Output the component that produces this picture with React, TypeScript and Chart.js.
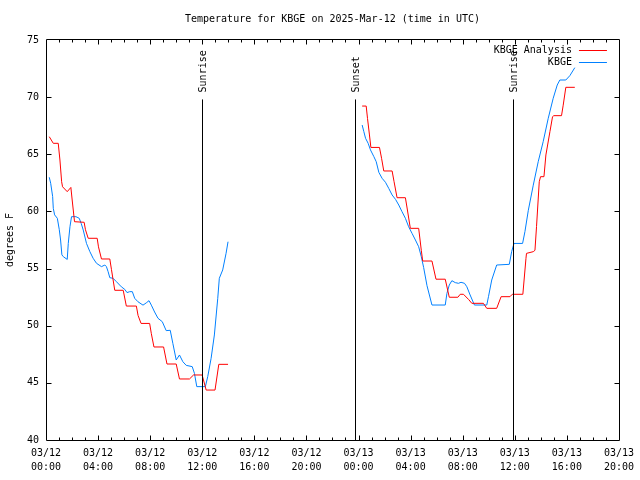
import React, { useEffect, useRef } from 'react';
import { Chart, registerables } from 'chart.js';

Chart.register(...registerables);

const FONT = "'DejaVu Sans Mono', 'Liberation Mono', monospace";
const TITLE = 'Temperature for KBGE on 2025-Mar-12 (time in UTC)';
const Y_TITLE = 'degrees F';
const X_MIN = 0;
const X_MAX = 44;
const Y_MIN = 40;
const Y_MAX = 75;
const SERIES_LABELS = ['KBGE Analysis', 'KBGE'];
const SERIES_COLORS = ['#ff0000', '#0080ff'];

// hours since 03/12 00:00 UTC
const analysisDay1Hours = [0.25, 0.56, 0.94, 1.07, 1.2, 1.27, 1.63, 1.91, 2.01, 2.19, 2.93, 3.03, 3.24, 3.93, 4.03, 4.26, 4.9, 5.03, 5.28, 5.93, 6.17, 6.94, 7.07, 7.3, 7.96, 8.09, 8.29, 9.03, 9.29, 10.0, 10.25, 11.02, 11.33, 11.99, 12.3, 12.98, 13.27, 13.98];
const analysisDay1Temps = [66.54, 65.96, 65.96, 64.5, 62.6, 62.16, 61.73, 62.1, 61.0, 59.1, 59.05, 58.4, 57.65, 57.65, 56.9, 55.84, 55.84, 54.9, 53.1, 53.1, 51.72, 51.72, 50.9, 50.2, 50.2, 49.3, 48.14, 48.14, 46.65, 46.65, 45.34, 45.34, 45.69, 45.69, 44.37, 44.37, 46.62, 46.62];
const analysisDay2Hours = [24.28, 24.59, 24.69, 24.84, 24.95, 25.61, 25.77, 25.94, 26.58, 26.73, 26.96, 27.6, 27.73, 27.98, 28.62, 28.82, 28.93, 29.64, 29.95, 30.66, 30.97, 31.63, 31.81, 32.06, 32.45, 32.7, 33.59, 33.85, 34.61, 34.95, 35.63, 35.81, 36.62, 36.86, 36.9, 37.42, 37.55, 37.67, 37.88, 37.98, 38.24, 38.39, 38.7, 38.9, 39.0, 39.59, 39.72, 39.92, 40.61];
const analysisDay2Temps = [69.22, 69.22, 68.14, 66.69, 65.6, 65.6, 64.65, 63.54, 63.54, 62.6, 61.2, 61.2, 60.3, 58.52, 58.52, 56.6, 55.66, 55.66, 54.07, 54.07, 52.49, 52.49, 52.75, 52.75, 52.3, 51.96, 51.96, 51.52, 51.52, 52.54, 52.54, 52.75, 52.75, 55.9, 56.33, 56.48, 56.6, 58.67, 62.6, 63.04, 63.04, 64.94, 66.98, 68.29, 68.38, 68.38, 69.3, 70.86, 70.86];

const obsDay1Hours = [0.25, 0.36, 0.51, 0.56, 0.66, 0.87, 1.02, 1.12, 1.22, 1.33, 1.63, 1.71, 1.84, 1.96, 2.3, 2.55, 2.7, 2.86, 3.11, 3.37, 3.62, 3.88, 4.26, 4.52, 4.64, 4.77, 4.9, 5.15, 5.41, 5.79, 6.05, 6.22, 6.43, 6.63, 6.81, 7.06, 7.45, 7.7, 7.91, 8.09, 8.34, 8.6, 8.93, 9.23, 9.54, 9.74, 10.0, 10.25, 10.51, 10.77, 11.23, 11.4, 11.58, 12.24, 12.42, 12.68, 12.93, 13.19, 13.31, 13.57, 13.83, 13.98];
const obsDay1Temps = [62.99, 62.46, 61.3, 60.27, 59.7, 59.4, 58.4, 57.5, 56.2, 56.04, 55.8, 57.2, 58.66, 59.54, 59.54, 59.4, 58.96, 58.37, 57.2, 56.48, 55.9, 55.46, 55.17, 55.31, 55.17, 54.73, 54.2, 54.15, 53.85, 53.4, 53.18, 52.9, 52.98, 52.98, 52.4, 52.1, 51.8, 52.0, 52.19, 51.8, 51.2, 50.65, 50.35, 49.57, 49.6, 48.46, 47.0, 47.44, 46.85, 46.53, 46.42, 45.83, 44.67, 44.67, 45.54, 47.15, 49.19, 52.4, 54.15, 54.88, 56.34, 57.35];
const obsDay2Hours = [24.28, 24.41, 24.54, 24.74, 24.92, 25.18, 25.36, 25.56, 25.81, 26.07, 26.32, 26.58, 26.84, 27.09, 27.34, 27.6, 27.85, 28.11, 28.37, 28.62, 28.82, 29.0, 29.26, 29.64, 30.66, 30.79, 30.97, 31.17, 31.43, 31.68, 31.87, 32.14, 32.32, 32.57, 32.9, 33.85, 33.98, 34.23, 34.61, 35.58, 35.76, 35.94, 36.6, 36.78, 37.04, 37.42, 37.8, 38.18, 38.57, 38.95, 39.26, 39.46, 39.92, 40.23, 40.61];
const obsDay2Temps = [67.56, 66.98, 66.4, 65.96, 65.38, 64.79, 64.35, 63.42, 62.9, 62.55, 62.02, 61.44, 61.06, 60.56, 59.98, 59.4, 58.66, 58.08, 57.5, 56.91, 56.04, 55.1, 53.5, 51.81, 51.81, 52.83, 53.56, 53.94, 53.77, 53.71, 53.8, 53.71, 53.41, 52.69, 51.81, 51.81, 52.54, 54.0, 55.31, 55.37, 56.48, 57.2, 57.2, 58.23, 60.1, 62.3, 64.35, 66.1, 68.15, 69.9, 71.06, 71.5, 71.5, 71.88, 72.58];

const eventHours = [11.96, 23.7, 35.89];
const eventLabels = ['Sunrise', 'Sunset', 'Sunrise'];
const eventTopTemp = 69.8;

function toPoints(parts: [number[], number[]][]) {
  const pts: { x: number; y: number | null }[] = [];
  parts.forEach(([hs, ts], i) => {
    if (i > 0) {
      const prev = parts[i - 1][0];
      pts.push({ x: (prev[prev.length - 1] + hs[0]) / 2, y: null });
    }
    hs.forEach((h, j) => pts.push({ x: h, y: ts[j] }));
  });
  return pts;
}

const framePlugin = {
  id: 'gnuplotFrame',
  afterDraw(chart: any) {
    const { ctx, chartArea, scales } = chart;
    const xs = scales.x;
    const ys = scales.y;
    const L = chartArea.left + 0.5;
    const R = Math.round(chartArea.right) + 0.5;
    const T = chartArea.top - 0.5;
    const B = chartArea.bottom + 0.5;
    ctx.save();
    ctx.strokeStyle = '#000';
    ctx.lineWidth = 1;
    ctx.beginPath();
    ctx.rect(L, T, R - L, B - T);
    // x ticks
    xs.ticks.forEach((t: any) => {
      const v = t.value;
      if (v <= X_MIN || v >= X_MAX) return;
      const px = Math.round(xs.getPixelForValue(v)) + 0.5;
      const len = v % 4 === 0 ? 5 : 3;
      ctx.moveTo(px, B);
      ctx.lineTo(px, B - len);
      ctx.moveTo(px, T);
      ctx.lineTo(px, T + len);
    });
    ys.ticks.forEach((t: any) => {
      const v = t.value;
      if (v <= Y_MIN || v >= Y_MAX) return;
      const py = Math.round(ys.getPixelForValue(v)) + 0.5;
      ctx.moveTo(L, py);
      ctx.lineTo(L + 5, py);
      ctx.moveTo(R, py);
      ctx.lineTo(R - 5, py);
    });
    ctx.stroke();

    // events
    ctx.font = `10px ${FONT}`;
    ctx.fillStyle = '#000';
    eventHours.forEach((h, i) => {
      const px = Math.round(xs.getPixelForValue(h)) + 0.5;
      const top = ys.getPixelForValue(eventTopTemp);
      ctx.beginPath();
      ctx.moveTo(px, B);
      ctx.lineTo(px, top);
      ctx.stroke();
      ctx.save();
      ctx.translate(px + 1, top - 7);
      ctx.rotate(-Math.PI / 2);
      ctx.textAlign = 'left';
      ctx.textBaseline = 'middle';
      ctx.fillText(eventLabels[i], 0, 0);
      ctx.restore();
    });

    // legend
    chart.data.datasets.forEach((ds: any, i: number) => {
      const y = Math.round(chartArea.top + 10 + i * 12.3) + 0.5;
      ctx.textAlign = 'right';
      ctx.textBaseline = 'middle';
      ctx.fillStyle = '#000';
      ctx.fillText(ds.label, chartArea.right - 47, y);
      ctx.strokeStyle = ds.borderColor;
      ctx.beginPath();
      ctx.moveTo(chartArea.right - 40, y);
      ctx.lineTo(chartArea.right - 12, y);
      ctx.stroke();
    });
    ctx.restore();
  },
};

export default function App() {
  const ref = useRef<HTMLCanvasElement | null>(null);
  useEffect(() => {
    if (!ref.current) return;
    const chart = new Chart(ref.current, {
      type: 'line',
      data: {
        datasets: [
          {
            label: SERIES_LABELS[0],
            data: toPoints([[analysisDay1Hours, analysisDay1Temps], [analysisDay2Hours, analysisDay2Temps]]),
            borderColor: SERIES_COLORS[0],
            borderWidth: 1,
            pointRadius: 0,
            tension: 0,
            fill: false,
          },
          {
            label: SERIES_LABELS[1],
            data: toPoints([[obsDay1Hours, obsDay1Temps], [obsDay2Hours, obsDay2Temps]]),
            borderColor: SERIES_COLORS[1],
            borderWidth: 1,
            pointRadius: 0,
            tension: 0,
            fill: false,
          },
        ],
      } as any,
      options: {
        responsive: false,
        animation: false,
        layout: { padding: { left: 0, right: 19, top: 0, bottom: 0 } },
        plugins: {
          legend: { display: false },
          tooltip: { enabled: false },
          title: {
            display: true,
            text: TITLE,
            fullSize: false,
            color: '#000',
            font: { family: FONT, size: 10, weight: 'normal', lineHeight: 1.2 },
            padding: { top: 13, bottom: 15 },
          },
        },
        scales: {
          x: {
            type: 'linear',
            min: X_MIN,
            max: X_MAX,
            afterFit: (s: any) => {
              s.height = 40;
            },
            grid: { display: false, drawTicks: false },
            border: { display: false },
            ticks: {
              stepSize: 1,
              maxTicksLimit: 100,
              autoSkip: false,
              maxRotation: 0,
              minRotation: 0,
              padding: 6,
              color: '#000',
              font: { family: FONT, size: 10, lineHeight: 1.4 },
              callback: (v: any) => {
                const n = Number(v);
                if (n % 4 !== 0) return '';
                const day = n < 24 ? '03/12' : '03/13';
                const hh = String(n % 24).padStart(2, '0');
                return [day, hh + ':00'];
              },
            },
          },
          y: {
            min: Y_MIN,
            max: Y_MAX,
            afterFit: (s: any) => {
              s.width = 46;
            },
            grid: { display: false, drawTicks: false },
            border: { display: false },
            ticks: {
              stepSize: 5,
              padding: 7,
              color: '#000',
              font: { family: FONT, size: 10 },
            },
            title: {
              display: true,
              text: Y_TITLE,
              color: '#000',
              padding: { top: 4, bottom: 0 },
              font: { family: FONT, size: 10, lineHeight: 1.2 },
            },
          },
        },
      } as any,
      plugins: [framePlugin],
    });
    return () => chart.destroy();
  }, []);
  return (
    <div style={{ position: 'absolute', left: 0, top: 0, width: 640, height: 480, background: '#fff' }}>
      <canvas ref={ref} width={640} height={480} style={{ display: 'block', width: 640, height: 480 }} />
    </div>
  );
}
